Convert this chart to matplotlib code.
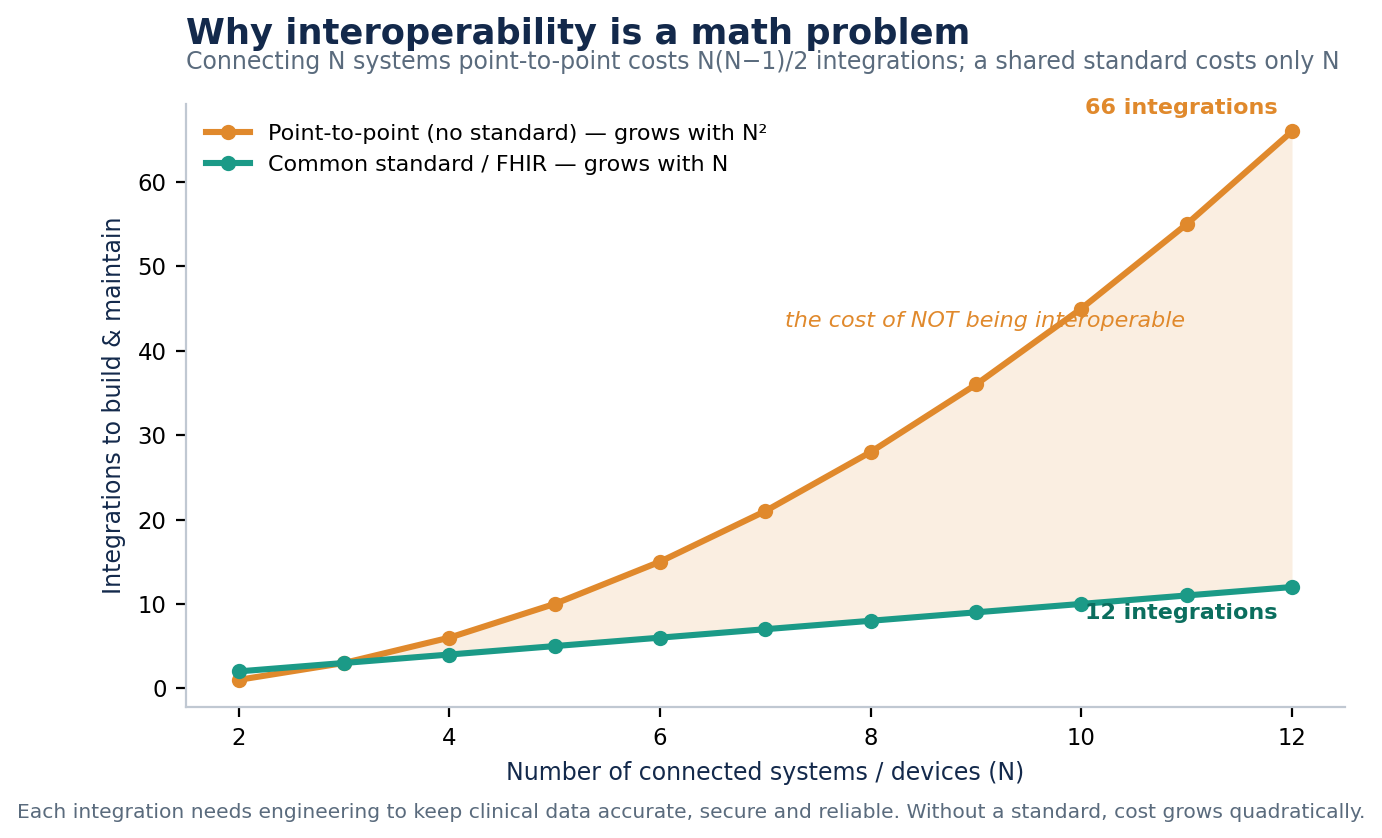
import matplotlib
matplotlib.use("Agg")
import matplotlib.pyplot as plt
import numpy as np

# Data
n_systems = [2, 3, 4, 5, 6, 7, 8, 9, 10, 11, 12]
point_to_point = [1, 3, 6, 10, 15, 21, 28, 36, 45, 55, 66]
common_standard = [2, 3, 4, 5, 6, 7, 8, 9, 10, 11, 12]

ORANGE = "#e0892c"
TEAL = "#1b9a87"
DARK_TEAL = "#0b6e5e"
NAVY = "#13294b"
GRAY = "#5a6b7d"

fig = plt.figure(figsize=(6.91, 4.19), dpi=200)
ax = fig.add_axes([0.1346, 0.156, 0.8384, 0.72])

ax.fill_between(n_systems, point_to_point, common_standard,
                where=np.array(point_to_point) >= np.array(common_standard),
                interpolate=True, color=ORANGE, alpha=0.14, linewidth=0)
ax.plot(n_systems, point_to_point, color=ORANGE, lw=2.2, marker="o", ms=4.5,
        label="Point-to-point (no standard) — grows with N²")
ax.plot(n_systems, common_standard, color=TEAL, lw=2.2, marker="o", ms=4.5,
        label="Common standard / FHIR — grows with N")

# Annotations
ax.text(10.03, 68.8, f"{point_to_point[-1]} integrations", color=ORANGE,
        fontsize=8, fontweight="bold", ha="left", va="center")
ax.text(10.03, 8.9, f"{common_standard[-1]} integrations", color=DARK_TEAL,
        fontsize=8, fontweight="bold", ha="left", va="center")
ax.text(9.09, 43.5, "the cost of NOT being interoperable", color=ORANGE,
        fontsize=8, style="italic", ha="center", va="center")

# Axes styling
ax.set_xlabel("Number of connected systems / devices (N)", color=NAVY, fontsize=8.5)
ax.set_ylabel("Integrations to build & maintain", color=NAVY, fontsize=8.5)
ax.set_xticks([2, 4, 6, 8, 10, 12])
ax.set_yticks([0, 10, 20, 30, 40, 50, 60])
ax.tick_params(labelsize=8.2)
for side in ["top", "right"]:
    ax.spines[side].set_visible(False)
for side in ["left", "bottom"]:
    ax.spines[side].set_color("#c0c8d2")

ax.legend(loc="upper left", frameon=False, fontsize=8)

# Titles and footer
fig.text(0.1346, 0.960, "Why interoperability is a math problem", color=NAVY,
         fontsize=12.7, fontweight="bold", ha="left", va="center")
fig.text(0.1346, 0.926,
         "Connecting N systems point-to-point costs N(N−1)/2 integrations; a shared standard costs only N",
         color=GRAY, fontsize=8.5, ha="left", va="center")
fig.text(0.5, 0.031,
         "Each integration needs engineering to keep clinical data accurate, secure and reliable. Without a standard, cost grows quadratically.",
         color=GRAY, fontsize=7.3, ha="center", va="center")

fig.savefig("out.png", dpi=200)
